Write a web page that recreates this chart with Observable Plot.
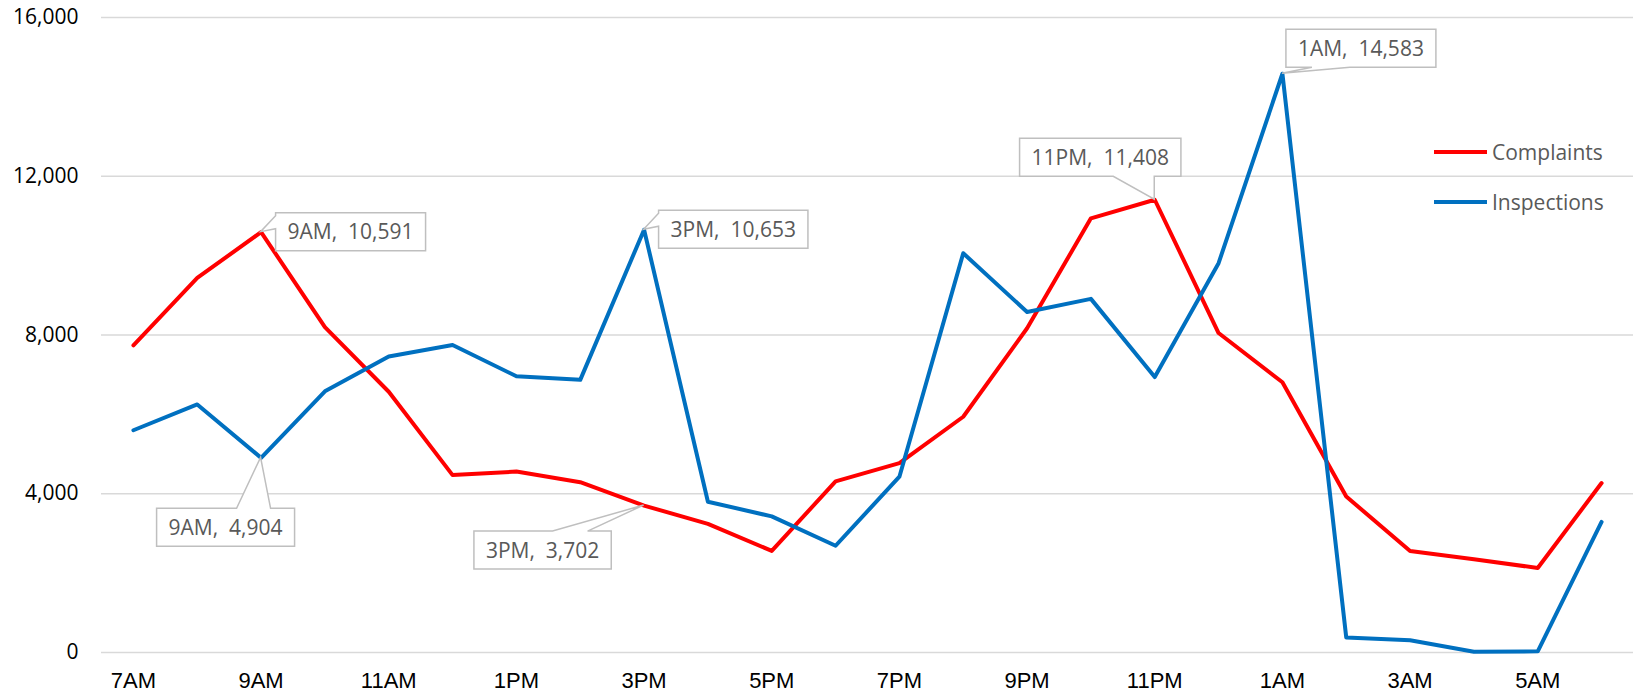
<!DOCTYPE html>
<html>
<head>
<meta charset="utf-8">
<script src="https://cdn.jsdelivr.net/npm/d3@7"></script>
<script src="https://cdn.jsdelivr.net/npm/@observablehq/plot@0.6"></script>
<style>
  html, body { margin: 0; padding: 0; background: #fff; }
  #chart { width: 1634px; height: 694px; }
</style>
</head>
<body>
<div id="chart"></div>
<script>
// ---- data ----
const hours = ["7AM","8AM","9AM","10AM","11AM","12PM","1PM","2PM","3PM","4PM","5PM","6PM",
               "7PM","8PM","9PM","10PM","11PM","12AM","1AM","2AM","3AM","4AM","5AM","6AM"];
const complaints = [7740, 9440, 10591, 8200, 6570, 4470, 4560, 4290, 3702, 3240, 2560, 4310,
                    4770, 5940, 8170, 10940, 11408, 8050, 6810, 3930, 2560, 2350, 2130, 4270];
const inspections = [5600, 6250, 4904, 6580, 7460, 7750, 6960, 6870, 10653, 3800, 3430, 2690,
                     4430, 10060, 8580, 8910, 6940, 9810, 14583, 380, 310, 20, 30, 3290];
const xTickLabels = ["7AM","9AM","11AM","1PM","3PM","5PM","7PM","9PM","11PM","1AM","3AM","5AM"];
const yTicks = [0, 4000, 8000, 12000, 16000];
const seriesNames = ["Complaints", "Inspections"];
const seriesColors = ["#FF0000", "#0070C0"];
const callouts = [
  {hour: "9AM",  series: "Complaints"},
  {hour: "9AM",  series: "Inspections"},
  {hour: "3PM",  series: "Inspections"},
  {hour: "3PM",  series: "Complaints"},
  {hour: "11PM", series: "Complaints"},
  {hour: "1AM",  series: "Inspections"}
];

// ---- table built from the arrays ----
const rows = hours.flatMap((h, i) => [
  {hour: h, series: "Complaints", value: complaints[i]},
  {hour: h, series: "Inspections", value: inspections[i]}
]);
const seriesValues = {Complaints: complaints, Inspections: inspections};

// ---- callout layout (pixel offsets from the data point) ----
const calloutLayout = {
  "9AM|Complaints":  {side: "left",   x0: 15},
  "3PM|Inspections": {side: "left",   x0: 15},
  "9AM|Inspections": {side: "top",    cx: -35,  gap: 51, b1: -24, b2: 10},
  "3PM|Complaints":  {side: "top",    cx: -101, gap: 26, b1: -91, b2: -56},
  "11PM|Complaints": {side: "bottom", cx: -54,  gap: 23, b1: -41, b2: 0},
  "1AM|Inspections": {side: "bottom", left: 4,  gap: 6,  b1: 30,  b2: 68}
};

const labelFont = "21px 'Open Sans'";
const fmt = d3.format(",");

function calloutMark(index, scales, values, dims) {
  const g = d3.create("svg:g").attr("aria-label", "callouts");
  const ctx = document.createElement("canvas").getContext("2d");
  ctx.font = labelFont;
  const h = 38;
  for (const c of callouts) {
    const i = hours.indexOf(c.hour);
    const v = seriesValues[c.series][i];
    const px = scales.x(c.hour), py = scales.y(v);
    const label = `${c.hour},\u00a0 ${fmt(v)}`;
    const w = ctx.measureText(label).width + 24;
    const L = calloutLayout[c.hour + "|" + c.series];
    let x0, y0, pts;
    if (L.side === "left") {
      x0 = px + L.x0; y0 = py - h / 2;
      const x1 = x0 + w, y1 = y0 + h;
      pts = [[x0, y0], [x1, y0], [x1, y1], [x0, y1], [x0, y0 + 16], [px, py], [x0, y0 + 3]];
    } else if (L.side === "top") {
      x0 = px + L.cx - w / 2; y0 = py + L.gap;
      const x1 = x0 + w, y1 = y0 + h;
      pts = [[x0, y0], [px + L.b1, y0], [px, py], [px + L.b2, y0], [x1, y0], [x1, y1], [x0, y1]];
    } else {
      x0 = L.left != null ? px + L.left : px + L.cx - w / 2;
      const y1 = py - L.gap; y0 = y1 - h;
      const x1 = x0 + w;
      pts = [[x0, y0], [x1, y0], [x1, y1], [px + L.b2, y1], [px, py], [px + L.b1, y1], [x0, y1]];
    }
    g.append("path")
      .attr("d", "M" + pts.map(p => p.join(",")).join("L") + "Z")
      .attr("fill", "#fff")
      .attr("stroke", "#bfbfbf")
      .attr("stroke-width", 1.5);
    g.append("text")
      .attr("x", x0 + w / 2)
      .attr("y", y0 + h / 2)
      .attr("text-anchor", "middle")
      .attr("dy", "0.36em")
      .attr("fill", "#595959")
      .style("font", labelFont)
      .text(label);
  }
  return g.node();
}

function legendMark(index, scales, values, dims) {
  const g = d3.create("svg:g").attr("aria-label", "legend");
  const xs = dims.width - 200, xe = dims.width - 147, xt = dims.width - 142;
  seriesNames.forEach((name, k) => {
    const y = dims.marginTop + 135 + k * 50;
    g.append("line").attr("x1", xs).attr("x2", xe).attr("y1", y).attr("y2", y)
      .attr("stroke", seriesColors[k]).attr("stroke-width", 4);
    g.append("text").attr("x", xt).attr("y", y).attr("dy", "0.36em")
      .attr("text-anchor", "start")
      .attr("fill", "#595959").style("font", labelFont).text(name);
  });
  return g.node();
}

const chart = Plot.plot({
  width: 1634,
  height: 694,
  marginLeft: 101,
  marginRight: 1,
  marginTop: 17,
  marginBottom: 42,
  style: {background: "#fff", fontFamily: "'Open Sans', sans-serif", color: "#000"},
  x: {type: "point", domain: hours, padding: 0.5, round: false, label: null},
  y: {domain: [0, 16000], label: null},
  color: {domain: seriesNames, range: seriesColors},
  marks: [
    Plot.ruleY(yTicks, {stroke: "#d9d9d9", strokeWidth: 1.3}),
    Plot.axisY({ticks: yTicks, tickSize: 0, tickPadding: 23, tickFormat: d3.format(","),
                fontSize: 21, fontFamily: "Open Sans", fill: "#000", label: null}),
    Plot.axisX({ticks: xTickLabels, tickSize: 0, tickPadding: 20,
                fontSize: 22, fontFamily: "Liberation Sans", fill: "#000", label: null}),
    Plot.line(rows, {x: "hour", y: "value", z: "series", stroke: "series",
                     strokeWidth: 4, strokeLinejoin: "round", strokeLinecap: "round"}),
    calloutMark,
    legendMark
  ]
});
document.getElementById("chart").appendChild(chart);
</script>
</body>
</html>
